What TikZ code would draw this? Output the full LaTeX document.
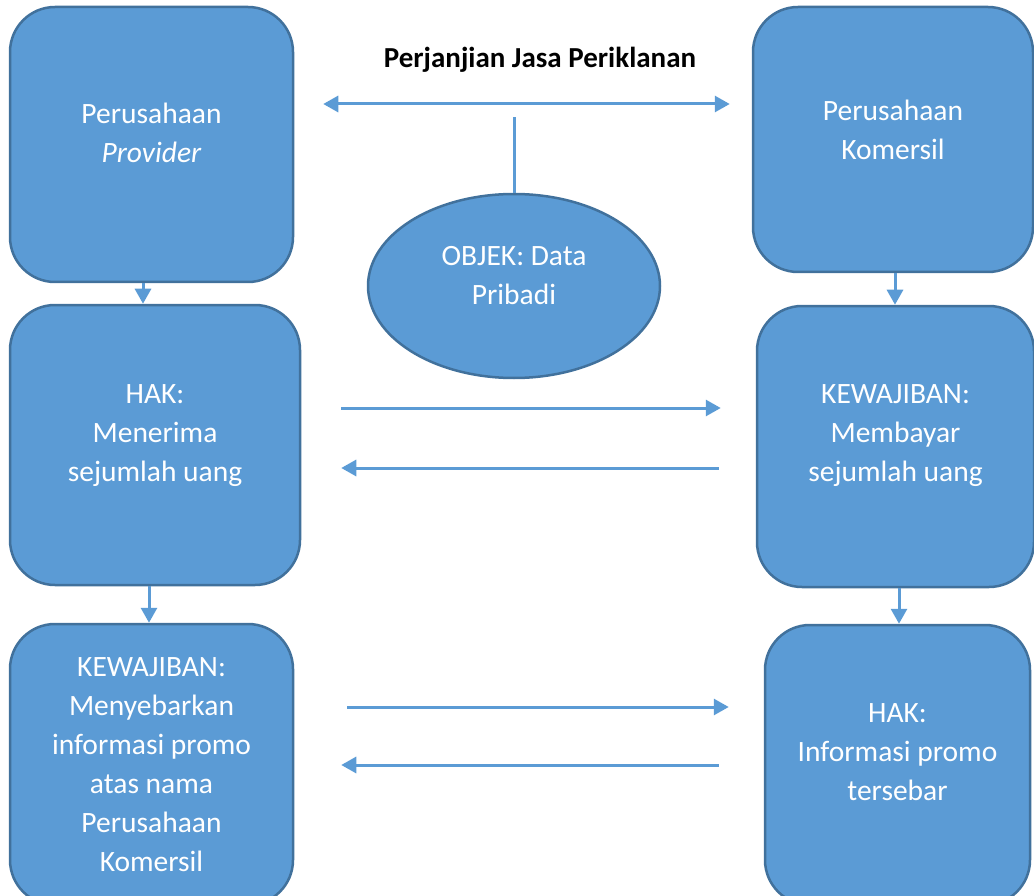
\documentclass[tikz,border=0pt]{standalone}
\usepackage{fontspec}
\setmainfont{Carlito}
\usetikzlibrary{shapes}
\usetikzlibrary{positioning}
\usetikzlibrary{arrows.meta}
\definecolor{boxblue}{HTML}{5B9BD5}
\definecolor{edgeblue}{HTML}{41719C}

\begin{document}
\begin{tikzpicture}[
    x=1pt, y=-1pt,
    font=\fontsize{29.5}{39}\selectfont
]
\tikzset{
    boxnode/.style = {rectangle, rounded corners=45pt, draw=edgeblue, line width=2.5pt, fill=boxblue},
    ellnode/.style = {ellipse, draw=edgeblue, line width=2.5pt, fill=boxblue, inner sep=0pt},
    txtnode/.style = {text=white, align=center},
    edgen/.style = {-, line width=3pt, boxblue},
    edger/.style = {-{Triangle[length=15pt,width=16pt]}, line width=3pt, boxblue},
    edgeb/.style = {{Triangle[length=15pt,width=16pt]}-{Triangle[length=15pt,width=16pt]}, line width=3pt, boxblue}
}
\useasboundingbox (0,0) rectangle (1034,896);
\clip (0,0) rectangle (1034,896);
\node[font=\fontsize{29}{35}\selectfont\bfseries] at (540,60) (judul) {Perjanjian Jasa Periklanan};
\node[boxnode, minimum width=283pt, minimum height=275pt,
    label={[txtnode, yshift=11.5pt]center:{Perusahaan\\\textit{Provider}}}] at (151.5,144.5) (prov) {};
\node[boxnode, minimum width=280pt, minimum height=265pt,
    label={[txtnode, yshift=9.5pt]center:{Perusahaan\\Komersil}}] at (893,139.5) (kom) {};
\node[ellnode, minimum width=292pt, minimum height=184pt,
    label={[txtnode, yshift=10pt]center:{OBJEK: Data\\Pribadi}}] at (514,286) (objek) {};
\node[boxnode, minimum width=290pt, minimum height=280pt,
    label={[txtnode, yshift=9pt]center:{HAK:\\Menerima\\sejumlah uang}}] at (155,445) (hak1) {};
\node[boxnode, minimum width=277pt, minimum height=281pt,
    label={[txtnode, yshift=10.5pt]center:{KEWAJIBAN:\\Membayar\\sejumlah uang}}] at (895.5,446.5) (kew1) {};
\node[boxnode, minimum width=283pt, minimum height=281pt,
    label={[txtnode]center:{KEWAJIBAN:\\Menyebarkan\\informasi promo\\atas nama\\Perusahaan\\Komersil}}] at (151.5,764.5) (kew2) {};
\node[boxnode, minimum width=265pt, minimum height=280pt,
    label={[txtnode, yshift=13pt]center:{HAK:\\Informasi promo\\tersebar}}] at (897.5,765) (hak2) {};
% perjanjian
\draw[edgeb, shorten <=29pt, shorten >=22pt] ([yshift=40.5pt]prov.east) -- ([yshift=40.5pt]prov.east -| kom.west);
\draw[edgen] (objek.north) -- ++(0,-76);
% turun
\draw[edger] ([xshift=-8.5pt]prov.south) -- ([xshift=-8.5pt]prov.south |- hak1.north);
\draw[edger] ([xshift=2pt]kom.south) -- ([xshift=2pt]kom.south |- kew1.north);
\draw[edger] ([xshift=-6pt]hak1.south) -- ([xshift=-6pt]hak1.south |- kew2.north);
\draw[edger] ([xshift=3.5pt]kew1.south) -- ([xshift=3.5pt]kew1.south |- hak2.north);
% timbal balik
\draw[edger, shorten <=40pt, shorten >=35pt] ([yshift=37pt]hak1.east) -- ([yshift=37pt]hak1.east -| kew1.west);
\draw[edger, shorten <=37pt, shorten >=40pt] ([yshift=-23pt]hak1.east -| kew1.west) -- ([yshift=-23pt]hak1.east);
\draw[edger, shorten <=53pt, shorten >=35pt] ([yshift=57.5pt]kew2.east) -- ([yshift=57.5pt]kew2.east -| hak2.west);
\draw[edger, shorten <=45pt, shorten >=47pt] ([yshift=-0.5pt]kew2.east -| hak2.west) -- ([yshift=-0.5pt]kew2.east);
\end{tikzpicture}
\end{document}
